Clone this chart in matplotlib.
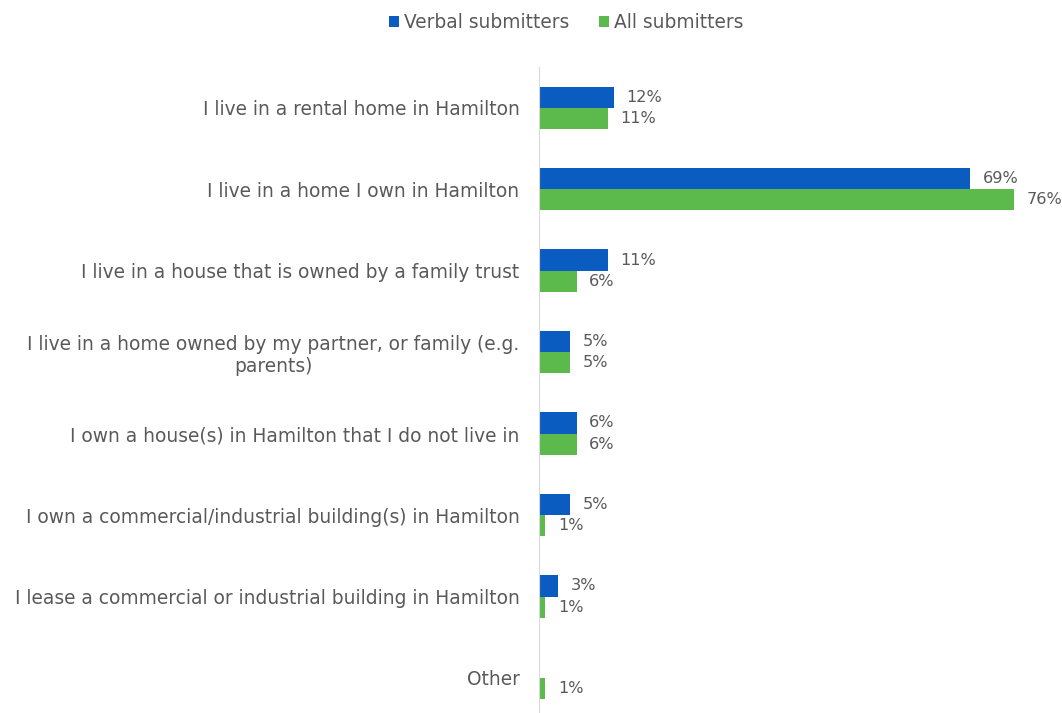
import matplotlib.pyplot as plt
import numpy as np

categories = [
    "I live in a rental home in Hamilton",
    "I live in a home I own in Hamilton",
    "I live in a house that is owned by a family trust",
    "I live in a home owned by my partner, or family (e.g.\nparents)",
    "I own a house(s) in Hamilton that I do not live in",
    "I own a commercial/industrial building(s) in Hamilton",
    "I lease a commercial or industrial building in Hamilton",
    "Other",
]
verbal = [12, 69, 11, 5, 6, 5, 3, None]
all_subs = [11, 76, 6, 5, 6, 1, 1, 1]

BLUE = "#0a5cc0"
GREEN = "#5cb94c"
TEXT = "#595959"
FS = 13.4
VFS = 11.6

plt.rcParams["font.family"] = "DejaVu Sans"

fig = plt.figure(figsize=(10.62, 7.13), dpi=100)
ax = fig.add_axes([539 / 1062, 0, 523 / 1062, 646 / 713])

y = np.arange(len(categories))
h = 0.26

v_vals = [v if v is not None else 0 for v in verbal]
ax.barh(y - h / 2, v_vals, height=h, color=BLUE, label="Verbal submitters")
ax.barh(y + h / 2, all_subs, height=h, color=GREEN, label="All submitters")

# value labels just past the end of each bar (offset in pixels at 100 dpi)
off = 12.5 * 72 / 100
for i, v in enumerate(verbal):
    if v is not None:
        ax.annotate(f"{v}%", (v, i - h / 2), xytext=(off, 0),
                    textcoords="offset points", va="center", ha="left",
                    fontsize=VFS, color=TEXT)
for i, v in enumerate(all_subs):
    ax.annotate(f"{v}%", (v, i + h / 2), xytext=(off, 0),
                textcoords="offset points", va="center", ha="left",
                fontsize=VFS, color=TEXT)

ax.set_xlim(0, 523 / 6.25)
ax.set_ylim(7.43, -0.5)
ax.set_yticks(y)
ax.set_yticklabels(categories, fontsize=FS, color=TEXT)
for lbl in ax.get_yticklabels():
    lbl.set_multialignment("center")
ax.tick_params(axis="y", length=0, pad=14)
ax.set_xticks([])

for side in ["top", "right", "bottom"]:
    ax.spines[side].set_visible(False)
ax.spines["left"].set_color("#d9d9d9")

fig.legend(loc="upper center", bbox_to_anchor=(566 / 1062, 1.005), ncol=2,
           frameon=False, fontsize=FS, labelcolor=TEXT,
           handlelength=0.55, handleheight=0.55, handletextpad=0.25,
           columnspacing=1.6)

fig.savefig("out.png", dpi=100)
